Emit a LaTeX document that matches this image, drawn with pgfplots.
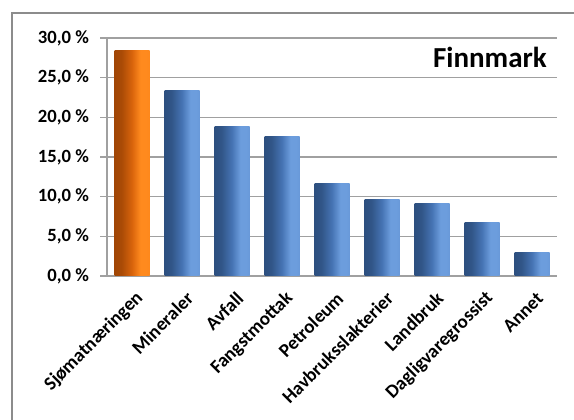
\documentclass[border=0pt]{standalone}
\usepackage{pgfplots}
\pgfplotsset{compat=1.18}
\usepackage{fontspec}
\setmainfont{Carlito}
\definecolor{bD}{HTML}{23416A}
\definecolor{bM}{HTML}{4674B4}
\definecolor{bL}{HTML}{6C9DDD}
\definecolor{bR}{HTML}{5584C4}
\definecolor{oD}{HTML}{8A3A02}
\definecolor{oM}{HTML}{D9640C}
\definecolor{oL}{HTML}{FF8A1E}
\definecolor{oR}{HTML}{F57C12}
\definecolor{gridc}{HTML}{A0A0A0}
\pgfdeclarehorizontalshading{bluebar}{100bp}{color(0bp)=(bD); color(35bp)=(bD!60!bM); color(50bp)=(bM); color(62bp)=(bL); color(70bp)=(bL); color(100bp)=(bR)}
\pgfdeclarehorizontalshading{orangebar}{100bp}{color(0bp)=(oD); color(35bp)=(oD!60!oM); color(50bp)=(oM); color(62bp)=(oL); color(70bp)=(oL); color(100bp)=(oR)}
\begin{document}
\begin{tikzpicture}
\path[use as bounding box] (-80.25pt,-108pt) rectangle (350.25pt,207pt);
\draw[color=gray!90, line width=0.8pt] (-71.25pt,-108pt) -- (-71.25pt,197.25pt) -- (350.25pt,197.25pt);
\begin{axis}[
  at={(0pt,0pt)}, anchor=south west,
  scale only axis, width=337.5pt, height=178.5pt,
  xmin=-0.5, xmax=8.5, ymin=0, ymax=30,
  axis line style={gridc, line width=0.8pt},
  axis x line*=bottom, axis y line*=left,
  ytick={0,5,...,30},
  ymajorgrids, grid style={gridc, line width=1.1pt},
  tick align=outside,
  major tick length=5pt,
  tick style={gridc, line width=0.8pt},
  xtick={0,...,8},
  xticklabels={Sjømatnæringen,Mineraler,Avfall,Fangstmottak,Petroleum,Havbruksslakterier,Landbruk,Dagligvaregrossist,Annet},
  x tick style={draw=none},
  extra x ticks={-0.5,0.5,...,8.5},
  extra x tick labels={},
  extra x tick style={grid=none, tick style={draw=gridc}},
  xticklabel style={font=\bfseries\fontsize{14.25}{16}\selectfont, rotate=45, anchor=east, xshift=1pt, yshift=-11pt},
  yticklabel style={font=\bfseries\fontsize{14}{16}\selectfont, xshift=-5pt},
  /pgf/number format/assume math mode=true,
  yticklabel={\pgfmathprintnumber[fixed,fixed zerofill,precision=1,use comma]{\tick}~\%},
  ybar, bar width=0.7, bar shift=0pt,
]
\addplot[draw=none, shading=orangebar] coordinates {(0,28.4)};
\addplot[draw=none, shading=bluebar] coordinates {(1,23.4)};
\addplot[draw=none, shading=bluebar] coordinates {(2,18.8)};
\addplot[draw=none, shading=bluebar] coordinates {(3,17.6)};
\addplot[draw=none, shading=bluebar] coordinates {(4,11.6)};
\addplot[draw=none, shading=bluebar] coordinates {(5,9.6)};
\addplot[draw=none, shading=bluebar] coordinates {(6,9.1)};
\addplot[draw=none, shading=bluebar] coordinates {(7,6.8)};
\addplot[draw=none, shading=bluebar] coordinates {(8,2.9)};
\node[anchor=base east, font=\bfseries\fontsize{21.75}{24}\selectfont, inner sep=0pt] at (rel axis cs:0.978,0.878) {Finnmark};
\end{axis}
\end{tikzpicture}
\end{document}
